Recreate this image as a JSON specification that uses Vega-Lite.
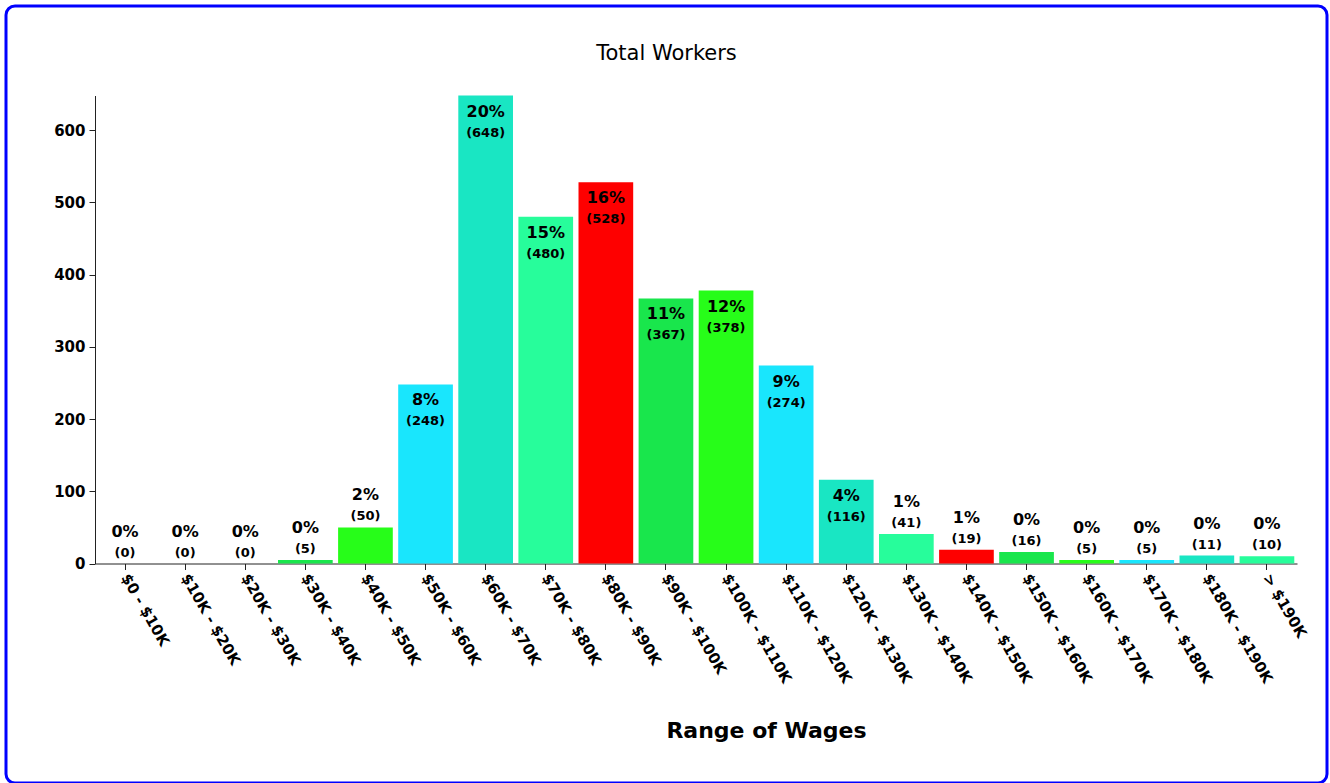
{
  "$schema": "https://vega.github.io/schema/vega-lite/v6.json",
  "autosize": {"type": "none"},
  "padding": {"left": 6, "top": 6, "right": 3, "bottom": 0},
  "width": 1321,
  "height": 777,
  "background": "white",
  "config": {
    "view": {"stroke": "#0000ff", "strokeWidth": 3, "cornerRadius": 9, "fill": "white"},
    "font": "DejaVu Sans"
  },
  "title": {
    "text": "Total Workers",
    "font": "DejaVu Sans",
    "fontSize": 21,
    "fontWeight": "normal",
    "color": "#000",
    "anchor": "middle",
    "frame": "group",
    "baseline": "alphabetic",
    "offset": -75
  },
  "data": {
    "values": [
      {"wage": "$0 - $10K", "count": 0, "pct": "0%"},
      {"wage": "$10K - $20K", "count": 0, "pct": "0%"},
      {"wage": "$20K - $30K", "count": 0, "pct": "0%"},
      {"wage": "$30K - $40K", "count": 5, "pct": "0%"},
      {"wage": "$40K - $50K", "count": 50, "pct": "2%"},
      {"wage": "$50K - $60K", "count": 248, "pct": "8%"},
      {"wage": "$60K - $70K", "count": 648, "pct": "20%"},
      {"wage": "$70K - $80K", "count": 480, "pct": "15%"},
      {"wage": "$80K - $90K", "count": 528, "pct": "16%"},
      {"wage": "$90K - $100K", "count": 367, "pct": "11%"},
      {"wage": "$100K - $110K", "count": 378, "pct": "12%"},
      {"wage": "$110K - $120K", "count": 274, "pct": "9%"},
      {"wage": "$120K - $130K", "count": 116, "pct": "4%"},
      {"wage": "$130K - $140K", "count": 41, "pct": "1%"},
      {"wage": "$140K - $150K", "count": 19, "pct": "1%"},
      {"wage": "$150K - $160K", "count": 16, "pct": "0%"},
      {"wage": "$160K - $170K", "count": 5, "pct": "0%"},
      {"wage": "$170K - $180K", "count": 5, "pct": "0%"},
      {"wage": "$180K - $190K", "count": 11, "pct": "0%"},
      {"wage": "> $190K", "count": 10, "pct": "0%"}
    ]
  },
  "transform": [{"calculate": "'(' + datum.count + ')'", "as": "countLabel"}],
  "encoding": {
    "x": {
      "field": "wage",
      "type": "nominal",
      "sort": null,
      "scale": {"range": [89, 1291], "paddingInner": 0.09, "paddingOuter": 0.045},
      "axis": {
        "title": "Range of Wages",
        "titleFont": "DejaVu Sans",
        "titleFontSize": 22,
        "titleFontWeight": "bold",
        "titleColor": "#000",
        "titleX": 760,
        "titleY": 174,
        "titleAlign": "center",
        "titleBaseline": "alphabetic",
        "offset": -219.5,
        "labelAngle": 60,
        "labelAlign": "left",
        "labelBaseline": "middle",
        "labelFont": "DejaVu Sans",
        "labelFontSize": 15,
        "labelFontWeight": "bold",
        "labelColor": "#000",
        "labelPadding": 5,
        "tickSize": 6,
        "tickColor": "#222",
        "domainColor": "#222",
        "grid": false
      }
    },
    "y": {
      "field": "count",
      "type": "quantitative",
      "scale": {"domain": [0, 648], "nice": false, "range": [557.5, 89.5]},
      "axis": {
        "title": null,
        "values": [0, 100, 200, 300, 400, 500, 600],
        "offset": -89,
        "labelFont": "DejaVu Sans",
        "labelFontSize": 15,
        "labelFontWeight": "bold",
        "labelColor": "#000",
        "labelPadding": 4,
        "tickSize": 6,
        "tickColor": "#222",
        "domainColor": "#222",
        "grid": false
      }
    }
  },
  "layer": [
    {
      "mark": {"type": "bar"},
      "encoding": {
        "color": {
          "field": "wage",
          "type": "nominal",
          "sort": null,
          "scale": {"range": ["#19e6c3", "#27fd9b", "#fe0000", "#19e64c", "#27fd19", "#19e6fd"]},
          "legend": null
        }
      }
    },
    {
      "transform": [{"filter": "datum.count >= 100"}],
      "mark": {"type": "text", "font": "DejaVu Sans", "fontSize": 16, "fontWeight": "bold", "color": "#000", "baseline": "alphabetic", "dy": 21},
      "encoding": {"text": {"field": "pct"}}
    },
    {
      "transform": [{"filter": "datum.count >= 100"}],
      "mark": {"type": "text", "font": "DejaVu Sans", "fontSize": 13, "fontWeight": "bold", "color": "#000", "baseline": "alphabetic", "dy": 41},
      "encoding": {"text": {"field": "countLabel"}}
    },
    {
      "transform": [{"filter": "datum.count < 100"}],
      "mark": {"type": "text", "font": "DejaVu Sans", "fontSize": 16, "fontWeight": "bold", "color": "#000", "baseline": "alphabetic", "dy": -27},
      "encoding": {"text": {"field": "pct"}}
    },
    {
      "transform": [{"filter": "datum.count < 100"}],
      "mark": {"type": "text", "font": "DejaVu Sans", "fontSize": 13, "fontWeight": "bold", "color": "#000", "baseline": "alphabetic", "dy": -7},
      "encoding": {"text": {"field": "countLabel"}}
    }
  ]
}
